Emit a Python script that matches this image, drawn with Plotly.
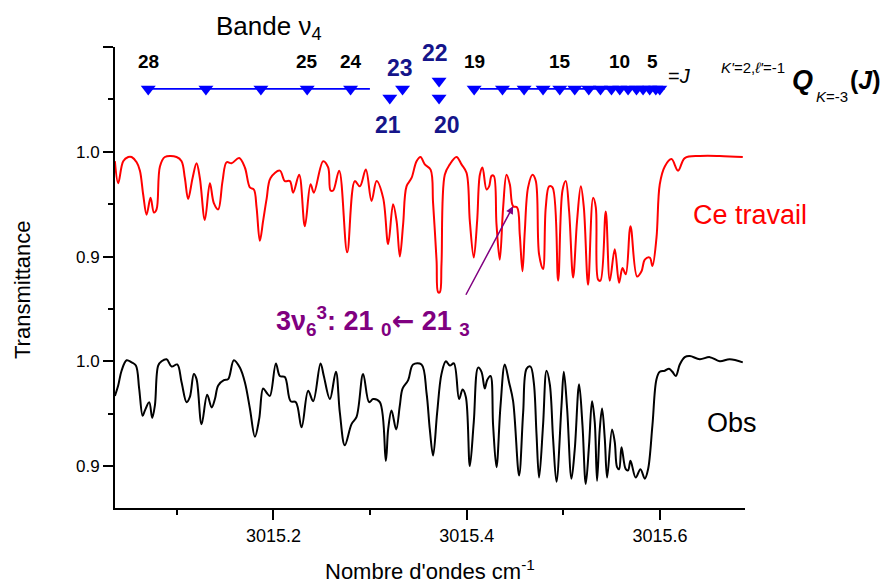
import plotly.graph_objects as go

# ---- spectra -------------------------------------------------------------
# calculated spectrum ("Ce travail")
calc_wn = [3015.0359, 3015.0393, 3015.0445, 3015.0497, 3015.0532, 3015.0584, 3015.0618, 3015.0652,
           3015.0687, 3015.0728, 3015.0763, 3015.0790, 3015.0825, 3015.0876, 3015.0997, 3015.1049,
           3015.1083, 3015.1117, 3015.1163, 3015.1204, 3015.1238, 3015.1290, 3015.1342, 3015.1383,
           3015.1428, 3015.1473, 3015.1515, 3015.1566, 3015.1645, 3015.1704, 3015.1756, 3015.1797,
           3015.1825, 3015.1859, 3015.1893, 3015.1929, 3015.1970, 3015.2066, 3015.2118, 3015.2170,
           3015.2204, 3015.2266, 3015.2325, 3015.2384, 3015.2418, 3015.2514, 3015.2566, 3015.2591,
           3015.2618, 3015.2680, 3015.2763, 3015.2842, 3015.2894, 3015.2956, 3015.3015, 3015.3067,
           3015.3135, 3015.3187, 3015.3238, 3015.3274, 3015.3308, 3015.3342, 3015.3377, 3015.3429,
           3015.3481, 3015.3522, 3015.3566, 3015.3626, 3015.3652, 3015.3688, 3015.3704, 3015.3722,
           3015.3739, 3015.3773, 3015.3825, 3015.3894, 3015.3946, 3015.3998, 3015.4032, 3015.4073,
           3015.4108, 3015.4136, 3015.4163, 3015.4205, 3015.4232, 3015.4257, 3015.4280, 3015.4308,
           3015.4342, 3015.4377, 3015.4412, 3015.4446, 3015.4480, 3015.4521, 3015.4549, 3015.4577,
           3015.4601, 3015.4635, 3015.4681, 3015.4715, 3015.4749, 3015.4790, 3015.4818, 3015.4853,
           3015.4888, 3015.4946, 3015.4991, 3015.5025, 3015.5060, 3015.5101, 3015.5142, 3015.5181,
           3015.5212, 3015.5256, 3015.5308, 3015.5336, 3015.5360, 3015.5384, 3015.5439, 3015.5481,
           3015.5532, 3015.5577, 3015.5612, 3015.5646, 3015.5695, 3015.5763, 3015.5809, 3015.5843,
           3015.5894, 3015.5922, 3015.5964, 3015.5998, 3015.6050, 3015.6119, 3015.6187, 3015.6257,
           3015.6412, 3015.6619, 3015.6857]
calc_T = [0.991, 0.970, 0.991, 0.995, 0.995, 0.990, 0.982, 0.959,
          0.940, 0.956, 0.942, 0.945, 0.986, 0.995, 0.995, 0.991,
          0.975, 0.955, 0.975, 0.989, 0.975, 0.935, 0.970, 0.951,
          0.945, 0.972, 0.990, 0.989, 0.994, 0.985, 0.966, 0.964,
          0.947, 0.915, 0.934, 0.955, 0.975, 0.982, 0.972, 0.972,
          0.961, 0.978, 0.929, 0.969, 0.961, 0.991, 0.985, 0.963,
          0.963, 0.982, 0.904, 0.972, 0.967, 0.983, 0.953, 0.972,
          0.956, 0.912, 0.950, 0.934, 0.900, 0.931, 0.967, 0.975,
          0.991, 0.995, 0.988, 0.983, 0.951, 0.896, 0.866, 0.866,
          0.893, 0.978, 0.988, 0.995, 0.988, 0.980, 0.934, 0.899,
          0.934, 0.978, 0.985, 0.964, 0.967, 0.977, 0.977, 0.931,
          0.897, 0.947, 0.978, 0.969, 0.948, 0.947, 0.921, 0.886,
          0.924, 0.966, 0.978, 0.972, 0.902, 0.888, 0.947, 0.967,
          0.966, 0.877, 0.963, 0.972, 0.943, 0.880, 0.934, 0.967,
          0.947, 0.873, 0.956, 0.947, 0.878, 0.877, 0.943, 0.877,
          0.907, 0.875, 0.889, 0.883, 0.929, 0.881, 0.886, 0.897,
          0.899, 0.891, 0.918, 0.969, 0.986, 0.993, 0.982, 0.994,
          0.996, 0.996, 0.995]

# observed spectrum ("Obs")
obs_wn = [3015.0359, 3015.0393, 3015.0428, 3015.0480, 3015.0532, 3015.0576, 3015.0610, 3015.0646,
          3015.0669, 3015.0714, 3015.0745, 3015.0773, 3015.0807, 3015.0842, 3015.0894, 3015.0946,
          3015.1004, 3015.1049, 3015.1101, 3015.1135, 3015.1176, 3015.1204, 3015.1256, 3015.1314,
          3015.1360, 3015.1394, 3015.1428, 3015.1487, 3015.1531, 3015.1590, 3015.1652, 3015.1704,
          3015.1756, 3015.1808, 3015.1852, 3015.1893, 3015.1929, 3015.1963, 3015.2025, 3015.2066,
          3015.2118, 3015.2177, 3015.2232, 3015.2291, 3015.2359, 3015.2411, 3015.2487, 3015.2521,
          3015.2584, 3015.2646, 3015.2687, 3015.2738, 3015.2808, 3015.2860, 3015.2928, 3015.2990,
          3015.3032, 3015.3101, 3015.3163, 3015.3187, 3015.3222, 3015.3270, 3015.3308, 3015.3336,
          3015.3394, 3015.3445, 3015.3532, 3015.3584, 3015.3618, 3015.3652, 3015.3694, 3015.3739,
          3015.3784, 3015.3825, 3015.3867, 3015.3921, 3015.3957, 3015.3991, 3015.4032, 3015.4073,
          3015.4118, 3015.4153, 3015.4187, 3015.4211, 3015.4246, 3015.4273, 3015.4308, 3015.4350,
          3015.4394, 3015.4438, 3015.4480, 3015.4542, 3015.4584, 3015.4620, 3015.4660, 3015.4694,
          3015.4722, 3015.4749, 3015.4790, 3015.4826, 3015.4860, 3015.4894, 3015.4929, 3015.4981,
          3015.5005, 3015.5039, 3015.5084, 3015.5118, 3015.5163, 3015.5198, 3015.5232, 3015.5266,
          3015.5297, 3015.5325, 3015.5349, 3015.5377, 3015.5401, 3015.5429, 3015.5453, 3015.5504,
          3015.5532, 3015.5556, 3015.5577, 3015.5602, 3015.5646, 3015.5670, 3015.5695, 3015.5749,
          3015.5798, 3015.5843, 3015.5877, 3015.5922, 3015.5964, 3015.5998, 3015.6050, 3015.6094,
          3015.6129, 3015.6164, 3015.6205, 3015.6257, 3015.6309, 3015.6412, 3015.6516, 3015.6619,
          3015.6722, 3015.6857]
obs_T = [0.967, 0.977, 0.991, 1.001, 0.999, 0.996, 0.974, 0.948,
         0.953, 0.961, 0.946, 0.958, 0.996, 1.000, 1.002, 0.995,
         0.997, 0.980, 0.961, 0.966, 0.988, 0.983, 0.940, 0.968,
         0.956, 0.964, 0.977, 0.982, 0.983, 1.001, 0.994, 0.980,
         0.955, 0.928, 0.945, 0.974, 0.970, 0.967, 0.998, 0.986,
         0.985, 0.962, 0.961, 0.937, 0.972, 0.962, 0.998, 0.986,
         0.964, 0.990, 0.951, 0.920, 0.940, 0.947, 0.988, 0.961,
         0.964, 0.961, 0.905, 0.935, 0.953, 0.935, 0.958, 0.974,
         0.982, 0.997, 0.997, 0.970, 0.935, 0.910, 0.951, 0.988,
         1.000, 0.996, 0.998, 0.964, 0.973, 0.966, 0.900, 0.942,
         0.994, 0.990, 0.974, 0.982, 0.986, 0.939, 0.899, 0.958,
         0.997, 0.980, 0.962, 0.891, 0.951, 0.993, 0.995, 0.980,
         0.931, 0.889, 0.939, 0.991, 0.978, 0.926, 0.885, 0.958,
         0.990, 0.955, 0.888, 0.916, 0.978, 0.939, 0.883, 0.920,
         0.962, 0.942, 0.886, 0.935, 0.955, 0.926, 0.889, 0.935,
         0.923, 0.899, 0.897, 0.918, 0.897, 0.896, 0.905, 0.889,
         0.897, 0.888, 0.897, 0.939, 0.983, 0.990, 0.991, 0.993,
         0.990, 0.986, 0.997, 1.004, 1.005, 1.002, 1.004, 1.000,
         1.002, 0.999]

# ---- nu4 band, Q branch line positions ----------------------------------
q_left_J = [28, 27, 26, 25, 24]
q_left_wn = [3015.0704, 3015.1301, 3015.1870, 3015.2349, 3015.2798]
q_right_J = [19, 18, 17, 16, 15, 14, 13, 12, 11, 10, 9, 8, 7, 6, 5, 4]
q_right_wn = [3015.4077, 3015.4370, 3015.4594, 3015.4790, 3015.4963, 3015.5118, 3015.5263,
              3015.5384, 3015.5498, 3015.5584, 3015.5670, 3015.5757, 3015.5825, 3015.5894,
              3015.5957, 3015.5998]
q_mid_J = [21, 23, 22, 20]
q_mid_wn = [3015.3204, 3015.3336, 3015.3714, 3015.3714]
labelled_J = [28, 25, 24, 19, 15, 10, 5]

OFFSET = 0.2          # vertical shift of the calculated spectrum
FONT = "Liberation Sans, Arial, Helvetica, sans-serif"
BLUE = "#0000ff"
NAVY = "#15158a"
PURPLE = "#800080"

# plot-area geometry in pixels (used to place free text)
L, R, T, B = 115, 745, 47, 508
W, H = 888, 585


def px(xp):
    return (xp - L) / (R - L)


def py(yp):
    return (B - yp) / (B - T)


# vertical levels (y-axis units) of the marker rows
ROW_Y = 1.26
MID_Y = {21: 1.2513, 23: 1.26, 22: 1.2675, 20: 1.2513}
LABEL_Y = 1.2866

fig = go.Figure()

fig.add_trace(go.Scatter(x=calc_wn, y=[v + OFFSET for v in calc_T], mode="lines",
                         line=dict(color="#ff0000", width=2, shape="spline", smoothing=1.0),
                         showlegend=False, hoverinfo="skip"))
fig.add_trace(go.Scatter(x=obs_wn, y=obs_T, mode="lines",
                         line=dict(color="#000000", width=2, shape="spline", smoothing=1.0),
                         showlegend=False, hoverinfo="skip"))

# marker rows with their connecting lines
for wn, pad_lo, pad_hi in ((q_left_wn, 0.0, 0.02), (q_right_wn, 0.006, 0.005)):
    fig.add_trace(go.Scatter(x=[min(wn) + pad_lo, max(wn) + pad_hi], y=[ROW_Y, ROW_Y], mode="lines",
                             line=dict(color=BLUE, width=1.6), showlegend=False, hoverinfo="skip"))
    fig.add_trace(go.Scatter(x=wn, y=[ROW_Y] * len(wn), mode="markers",
                             marker=dict(symbol="triangle-down", size=13, color=BLUE),
                             showlegend=False, hoverinfo="skip"))
fig.add_trace(go.Scatter(x=q_mid_wn, y=[MID_Y[j] for j in q_mid_J], mode="markers",
                         marker=dict(symbol="triangle-down", size=13, color=BLUE),
                         showlegend=False, hoverinfo="skip"))

ann = []
for j, wn in list(zip(q_left_J, q_left_wn)) + list(zip(q_right_J, q_right_wn)):
    if j in labelled_J:
        ann.append(dict(x=wn, y=LABEL_Y, xref="x", yref="y", text=f"<b>{j}</b>", showarrow=False,
                        font=dict(size=19, color="black", family=FONT),
                        xanchor="center", yanchor="middle", xshift=-3 if j == 5 else 0))

mid_text_pos = {21: (1.2256, -2), 23: (1.28, -3), 22: (1.2943, -4), 20: (1.2256, 8)}
for j, wn in zip(q_mid_J, q_mid_wn):
    yv, xs = mid_text_pos[j]
    ann.append(dict(x=wn, y=yv, xref="x", yref="y", text=f"<b>{j}</b>", showarrow=False,
                    font=dict(size=23, color=NAVY, family=FONT),
                    xanchor="center", yanchor="middle", xshift=xs))


def free_text(x, y, text, size, color="black", **kw):
    ann.append(dict(x=px(x), y=py(y), xref="paper", yref="paper", text=text, showarrow=False,
                    font=dict(size=size, color=color, family=FONT),
                    xanchor="center", yanchor="middle", **kw))


free_text(269, 27, "Bande ν<sub>4</sub>", 26)
free_text(679, 76, "=<i>J</i>", 20)
free_text(753, 68, "<i>K'</i>=2,<i>ℓ'</i>=-1", 15)
free_text(803, 80, "<b><i>Q</i></b>", 27)
free_text(832, 97, "<i>K</i>=-3", 15)
free_text(865, 80, "<b>(<i>J</i>)</b>", 25)
free_text(750, 215, "Ce travail", 27, color="#ff0000")
free_text(732, 423, "Obs", 27)
free_text(373, 321,
          "<b>3ν<sub>6</sub><sup>3</sup>: 21 <sub>0</sub>"
          "<span style=\"font-family:DejaVu Sans\">←</span> 21 <sub>3</sub></b>",
          27, color=PURPLE)
free_text(22, 290, "Transmittance", 22, textangle=-90)
free_text(430, 570, "Nombre d'ondes cm<sup>-1</sup>", 22)

# arrow pointing at the 3ν6 line in the calculated spectrum
k = 92
ann.append(dict(x=calc_wn[k], y=calc_T[k] + OFFSET, xref="x", yref="y", ax=-48, ay=90,
                axref="pixel", ayref="pixel", showarrow=True, arrowhead=2, arrowsize=1,
                arrowwidth=1.5, arrowcolor=PURPLE, text=""))

fig.update_layout(
    width=W, height=H,
    margin=dict(l=L, r=W - R, t=T, b=H - B),
    paper_bgcolor="white", plot_bgcolor="white",
    font=dict(family=FONT, color="black"),
    annotations=ann,
    xaxis=dict(range=[3015.036, 3015.688], showgrid=False, zeroline=False,
               showline=True, linecolor="black", linewidth=2,
               tickmode="array", tickvals=[3015.2, 3015.4, 3015.6],
               ticktext=["3015.2", "3015.4", "3015.6"],
               ticks="outside", ticklen=10, tickwidth=1.5, tickcolor="black",
               tickfont=dict(size=18, family=FONT),
               minor=dict(tickmode="array", tickvals=[3015.1, 3015.3, 3015.5],
                          ticks="outside", ticklen=5, tickwidth=1.5, tickcolor="black")),
    yaxis=dict(range=[0.86, 1.30], showgrid=False, zeroline=False,
               showline=True, linecolor="black", linewidth=2,
               tickmode="array", tickvals=[0.9, 1.0, 1.1, 1.2, 1.3],
               ticktext=["0.9", "1.0", "0.9", "1.0", ""],
               ticks="outside", ticklen=10, tickwidth=1.5, tickcolor="black",
               tickfont=dict(size=17, family=FONT),
               minor=dict(tickmode="array", tickvals=[0.95, 1.05, 1.15, 1.25],
                          ticks="outside", ticklen=5, tickwidth=1.5, tickcolor="black")),
)

fig.write_html("out.html")
